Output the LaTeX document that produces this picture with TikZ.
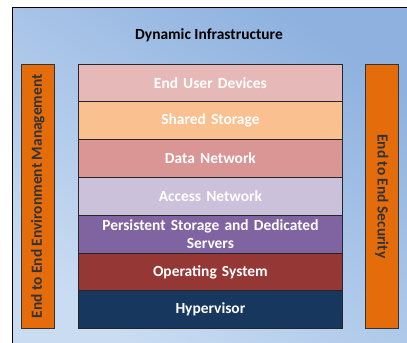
\documentclass[tikz,border=0pt]{standalone}
\usepackage{fontspec}
\setmainfont{Carlito}
\definecolor{bgtop}{HTML}{8EB1DF}
\definecolor{bgbot}{HTML}{C9DCF2}
\definecolor{orangebar}{HTML}{E46C0A}
\definecolor{cEUD}{HTML}{E6B9B8}
\definecolor{cSS}{HTML}{FAC090}
\definecolor{cDN}{HTML}{D99694}
\definecolor{cAN}{HTML}{CCC1DA}
\definecolor{cPS}{HTML}{8064A2}
\definecolor{cOS}{HTML}{953735}
\definecolor{cHV}{HTML}{17375E}
\begin{document}
\begin{tikzpicture}[x=1bp,y=-1bp,
  txt/.style={font=\bfseries\fontsize{15.5}{19}\selectfont},
  layer/.style={txt, draw=black!85, line width=0.8bp, minimum width=264bp, minimum height=38bp,
    inner sep=0pt, anchor=north west, text=white, align=center, text width=255bp},
  sidebar/.style={draw=black!80, line width=0.6bp, fill=orangebar, minimum width=33bp, minimum height=264bp,
    inner sep=0pt, anchor=north west}]
\useasboundingbox (0,0) rectangle (407,343);
\shade[bottom color=bgbot, top color=bgtop, shading angle=-35] (12,7) rectangle (410,346);
\draw[black, line width=0.8bp] (410,7) -- (12,7) -- (12,346);
\node[txt] (title) at (209,35) {Dynamic Infrastructure};
\node[sidebar] (left) at (21,64) {};
\node[rotate=90, txt, text=black!80] (lefttext) at (left.center) {End to End Environment Management};
\node[sidebar] (right) at (365,64) {};
\node[rotate=-90, txt, text=black!80] (righttext) at (right.center) {End to End Security};
\node[layer, fill=cEUD] (eud) at (78,63.5) {End User Devices};
\node[layer, fill=cSS] (ss) at (78,101.3) {Shared Storage};
\node[layer, fill=cDN] (dn) at (78,139.1) {Data Network};
\node[layer, fill=cAN] (an) at (78,176.9) {Access Network};
\node[layer, fill=cPS] (ps) at (78,214.7) {Persistent Storage and Dedicated\\Servers};
\node[layer, fill=cOS] (os) at (78,252.5) {Operating System};
\node[layer, fill=cHV] (hv) at (78,290.3) {Hypervisor};
\end{tikzpicture}
\end{document}
